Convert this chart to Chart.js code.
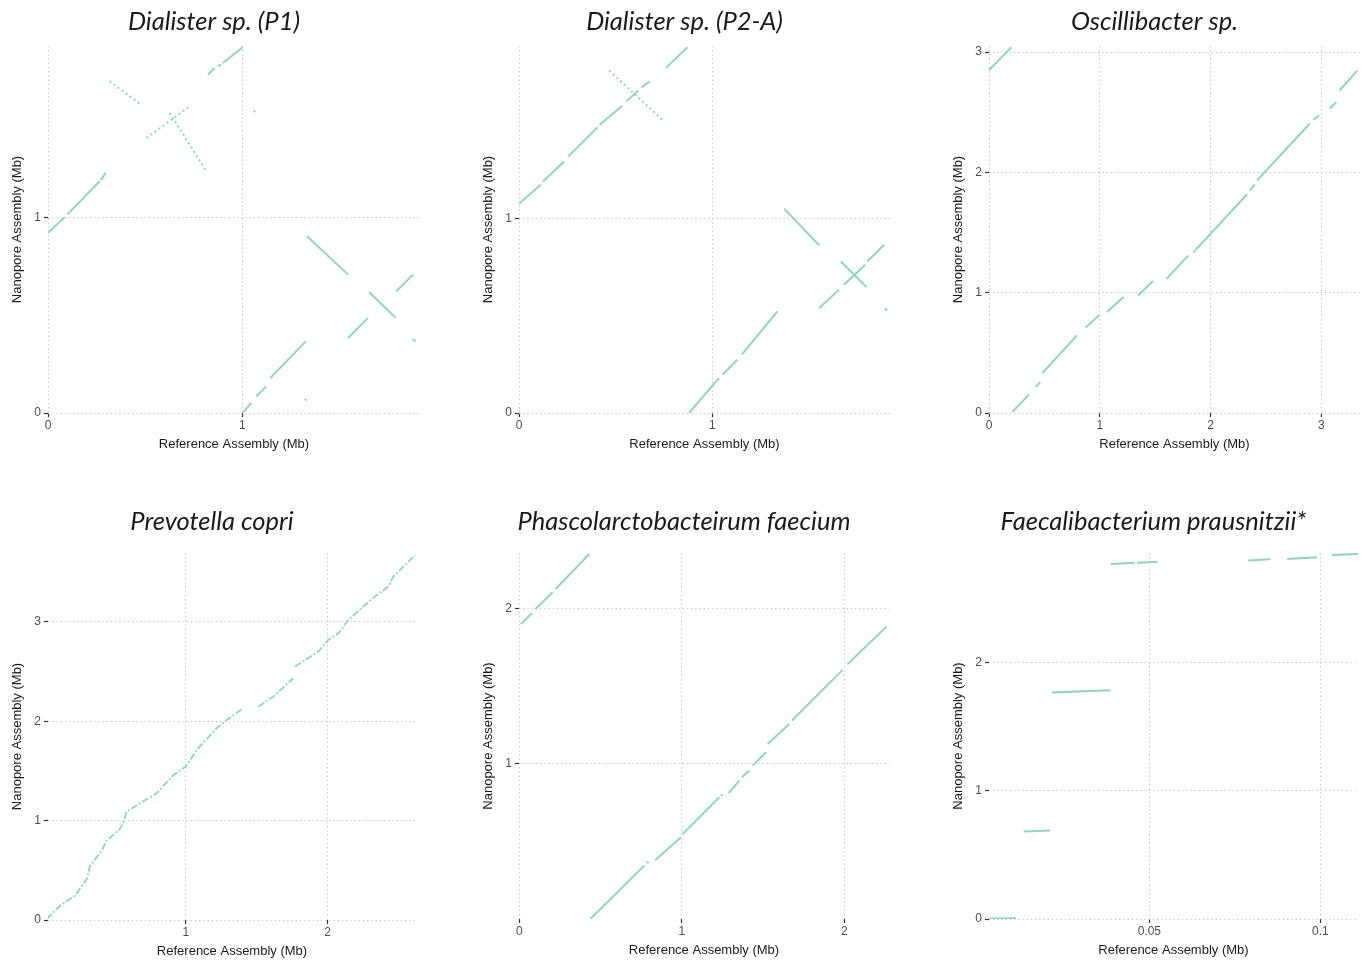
<!DOCTYPE html>
<html>
<head>
<meta charset="utf-8">
<script src="https://cdn.jsdelivr.net/npm/chart.js@4.4.1/dist/chart.umd.min.js"></script>
<style>
  html, body { margin: 0; padding: 0; background: #ffffff; }
  body { width: 1368px; height: 960px; position: relative; overflow: hidden; }
  canvas { position: absolute; }
</style>
</head>
<body>
<canvas id="c1"></canvas>
<canvas id="c2"></canvas>
<canvas id="c3"></canvas>
<canvas id="c4"></canvas>
<canvas id="c5"></canvas>
<canvas id="c6"></canvas>
<script>
// ---------------- DATA (Mb) ----------------
const titles = [
  'Dialister sp. (P1)',
  'Dialister sp. (P2-A)',
  'Oscillibacter sp.',
  'Prevotella copri',
  'Phascolarctobacteirum faecium',
  'Faecalibacterium prausnitzii*'
];
const xAxisTitle = 'Reference Assembly (Mb)';
const yAxisTitle = 'Nanopore Assembly (Mb)';

// tick values per panel
const p1XTicks = [0, 1];
const p1YTicks = [0, 1];
const p2XTicks = [0, 1];
const p2YTicks = [0, 1];
const p3XTicks = [0, 1, 2, 3];
const p3YTicks = [0, 1, 2, 3];
const p4XTicks = [1, 2];
const p4YTicks = [0, 1, 2, 3];
const p5XTicks = [0, 1, 2];
const p5YTicks = [1, 2];
const p6XTicks = [0.05, 0.1];
const p6YTicks = [0, 1, 2];

// alignment segments [refStart, nanoStart, refEnd, nanoEnd]
const p1Segments = [
  [0, 0.92, 0.085, 1.0],
  [0.10, 1.015, 0.266, 1.184],
  [0.272, 1.19, 0.297, 1.227],
  [0.823, 1.729, 0.858, 1.763],
  [0.875, 1.772, 0.89, 1.781],
  [0.90, 1.788, 1.003, 1.87],
  [1.058, 1.545, 1.066, 1.537],
  [1.003, 0.003, 1.046, 0.051],
  [1.072, 0.085, 1.123, 0.136],
  [1.144, 0.179, 1.326, 0.366],
  [1.322, 0.072, 1.33, 0.064],
  [1.333, 0.903, 1.544, 0.707],
  [1.652, 0.618, 1.789, 0.486],
  [1.544, 0.383, 1.647, 0.486],
  [1.792, 0.622, 1.878, 0.707],
  [1.875, 0.378, 1.892, 0.366]
];
const p1Dotted = [
  [0.317, 1.695, 0.48, 1.575],
  [0.506, 1.405, 0.729, 1.567],
  [0.626, 1.533, 0.815, 1.235]
];

const p2Segments = [
  [0, 1.077, 0.112, 1.175],
  [0.124, 1.192, 0.233, 1.295],
  [0.255, 1.321, 0.405, 1.47],
  [0.417, 1.484, 0.534, 1.581],
  [0.555, 1.604, 0.617, 1.66],
  [0.634, 1.676, 0.676, 1.707],
  [0.759, 1.775, 0.871, 1.883],
  [0.879, 0, 1.034, 0.18],
  [1.052, 0.197, 1.129, 0.274],
  [1.152, 0.30, 1.336, 0.523],
  [1.552, 0.540, 1.655, 0.635],
  [1.68, 0.66, 1.79, 0.763],
  [1.80, 0.78, 1.888, 0.866],
  [1.371, 1.051, 1.552, 0.863],
  [1.664, 0.780, 1.797, 0.648],
  [1.893, 0.540, 1.902, 0.527]
];
const p2Dotted = [
  [0.466, 1.762, 0.75, 1.501]
];

const p3Segments = [
  [0, 2.85, 0.202, 3.04],
  [0.211, 0.008, 0.361, 0.155],
  [0.421, 0.216, 0.464, 0.257],
  [0.482, 0.332, 0.794, 0.645],
  [0.873, 0.710, 0.993, 0.812],
  [1.065, 0.839, 1.216, 0.967],
  [1.345, 0.977, 1.48, 1.097],
  [1.601, 1.115, 1.797, 1.308],
  [1.842, 1.333, 2.329, 1.818],
  [2.353, 1.850, 2.398, 1.899],
  [2.419, 1.933, 2.894, 2.404],
  [2.93, 2.438, 2.978, 2.474],
  [3.075, 2.530, 3.135, 2.585],
  [3.165, 2.682, 3.322, 2.843]
];

// Prevotella copri: traced alignment paths [ref, nano]
const p4PathA = [
  [0.021, 0.01], [0.115, 0.144], [0.22, 0.245], [0.303, 0.412], [0.326, 0.546],
  [0.408, 0.697], [0.443, 0.798], [0.537, 0.916], [0.561, 0.983], [0.584, 1.09],
  [0.678, 1.174], [0.795, 1.274], [0.913, 1.459], [1.0, 1.543], [1.077, 1.711],
  [1.218, 1.929], [1.30, 2.023], [1.406, 2.13]
];
const p4PathB = [
  [1.512, 2.147], [1.617, 2.247], [1.758, 2.432]
];
const p4PathC = [
  [1.77, 2.55], [1.934, 2.70], [2.004, 2.817], [2.075, 2.884], [2.145, 3.018],
  [2.263, 3.169], [2.345, 3.269], [2.427, 3.353], [2.462, 3.454], [2.533, 3.554],
  [2.615, 3.672]
];

const p5Segments = [
  [0.01, 1.899, 0.078, 1.968],
  [0.098, 1.994, 0.205, 2.103],
  [0.222, 2.122, 0.431, 2.349],
  [0.437, 0.004, 0.769, 0.347],
  [0.785, 0.363, 0.795, 0.373],
  [0.837, 0.383, 0.995, 0.529],
  [1.005, 0.55, 1.231, 0.786],
  [1.24, 0.795, 1.25, 0.805],
  [1.288, 0.812, 1.354, 0.893],
  [1.37, 0.914, 1.415, 0.957],
  [1.436, 0.989, 1.518, 1.075],
  [1.528, 1.128, 1.662, 1.257],
  [1.678, 1.278, 1.99, 1.604],
  [2.021, 1.642, 2.26, 1.882]
];

const p6Segments = [
  [0.0032, 0.003, 0.011, 0.005],
  [0.01326, 0.682, 0.02105, 0.690],
  [0.02154, 1.766, 0.0386, 1.785],
  [0.0388, 2.770, 0.0457, 2.778],
  [0.0464, 2.778, 0.0524, 2.786],
  [0.0789, 2.796, 0.0854, 2.807],
  [0.0903, 2.809, 0.0990, 2.822],
  [0.1034, 2.840, 0.1110, 2.848]
];

// ---------------- LAYOUT / STYLE ----------------
const TEAL = '#93d3be';
const panels = [
  { id: 'c1', rowTop: 0,   L: 48,  R: 420,  T: 46,  B: 413, xMin: 0,       xMax: 1.914, yMin: 0,     yMax: 1.875, xt: p1XTicks, yt: p1YTicks, seg: p1Segments, dot: p1Dotted },
  { id: 'c2', rowTop: 0,   L: 519, R: 890,  T: 46,  B: 413, xMin: 0,       xMax: 1.918, yMin: 0,     yMax: 1.889, xt: p2XTicks, yt: p2YTicks, seg: p2Segments, dot: p2Dotted },
  { id: 'c3', rowTop: 0,   L: 989, R: 1360, T: 46,  B: 413, xMin: 0,       xMax: 3.348, yMin: 0,     yMax: 3.05,  xt: p3XTicks, yt: p3YTicks, seg: p3Segments, dot: [] },
  { id: 'c4', rowTop: 500, L: 48,  R: 416,  T: 553, B: 920, xMin: 0.03,    xMax: 2.622, yMin: 0,     yMax: 3.692, xt: p4XTicks, yt: p4YTicks, seg: [], dot: [], paths: [p4PathA, p4PathB, p4PathC] },
  { id: 'c5', rowTop: 500, L: 519, R: 889,  T: 553, B: 919, xMin: -0.002,  xMax: 2.275, yMin: 0.004, yMax: 2.355, xt: p5XTicks, yt: p5YTicks, seg: p5Segments, dot: [] },
  { id: 'c6', rowTop: 500, L: 989, R: 1358, T: 553, B: 919, xMin: 0.00313, xMax: 0.1110, yMin: 0,    yMax: 2.855, xt: p6XTicks, yt: p6YTicks, seg: p6Segments, dot: [] }
];

const Y_AXIS_W = 40, X_AXIS_H = 40, RIGHT_PAD = 2;
const TITLE_SIZE = 25.5, TITLE_LH = 1.2;

function segDataset(s, dash) {
  return {
    data: [{ x: s[0], y: s[1] }, { x: s[2], y: s[3] }],
    showLine: true, borderColor: TEAL, borderWidth: 2, pointRadius: 0,
    borderDash: dash, borderCapStyle: 'butt'
  };
}
function pathDataset(p) {
  return {
    data: p.map(q => ({ x: q[0], y: q[1] })),
    showLine: true, borderColor: TEAL, borderWidth: 1.8, pointRadius: 0,
    borderDash: [7, 2, 2, 2], tension: 0
  };
}

panels.forEach((p, i) => {
  const cv = document.getElementById(p.id);
  const left = p.L - Y_AXIS_W;
  const w = p.R - left + RIGHT_PAD;
  const h = p.B + X_AXIS_H - p.rowTop;
  cv.width = w; cv.height = h;
  cv.style.left = left + 'px'; cv.style.top = p.rowTop + 'px';
  cv.style.width = w + 'px'; cv.style.height = h + 'px';

  const titleBand = p.T - p.rowTop;
  const tPadTop = 22 - TITLE_SIZE * TITLE_LH / 2;
  const tPadBottom = titleBand - tPadTop - TITLE_SIZE * TITLE_LH;

  const datasets = [];
  p.seg.forEach(s => datasets.push(segDataset(s, [])));
  p.dot.forEach(s => datasets.push(segDataset(s, [2, 3])));
  (p.paths || []).forEach(pp => datasets.push(pathDataset(pp)));

  const tickFont = { family: '"Liberation Sans", Arial, sans-serif', size: 12 };
  const axTitleFont = { family: '"Liberation Sans", Arial, sans-serif', size: 13, lineHeight: 1.2 };

  new Chart(cv, {
    type: 'scatter',
    data: { datasets },
    options: {
      responsive: false,
      animation: false,
      devicePixelRatio: 1,
      layout: { padding: { left: 0, right: RIGHT_PAD, top: 0, bottom: 0 } },
      plugins: {
        legend: { display: false },
        tooltip: { enabled: false },
        title: {
          display: true,
          text: titles[i],
          color: '#1a1a1a',
          font: { family: 'Lato, "Open Sans", sans-serif', size: TITLE_SIZE, style: 'italic', weight: 'normal', lineHeight: TITLE_LH },
          padding: { top: tPadTop, bottom: tPadBottom }
        }
      },
      scales: {
        x: {
          type: 'linear', min: p.xMin, max: p.xMax,
          afterBuildTicks: sc => { sc.ticks = p.xt.map(v => ({ value: v })); },
          afterFit: sc => { sc.height = X_AXIS_H; },
          ticks: { color: '#4d4d4d', font: tickFont, padding: 1, maxRotation: 0, autoSkip: false, callback: v => String(v) },
          grid: { color: '#bdbdbd', lineWidth: 1, drawTicks: true, tickLength: 4, tickColor: '#333333', tickWidth: 1.2 },
          border: { display: false, dash: [1.2, 3] },
          title: { display: true, text: xAxisTitle, color: '#1a1a1a', font: axTitleFont, padding: { top: 0, bottom: 1 } }
        },
        y: {
          type: 'linear', min: p.yMin, max: p.yMax,
          afterBuildTicks: sc => { sc.ticks = p.yt.map(v => ({ value: v })); },
          afterFit: sc => { sc.width = Y_AXIS_W; },
          ticks: { color: '#4d4d4d', font: tickFont, padding: 3, autoSkip: false, callback: v => String(v) },
          grid: { color: '#bdbdbd', lineWidth: 1, drawTicks: true, tickLength: 4, tickColor: '#333333', tickWidth: 1.2 },
          border: { display: false, dash: [1.2, 3] },
          title: { display: true, text: yAxisTitle, color: '#1a1a1a', font: axTitleFont, padding: { top: 2, bottom: 0 } }
        }
      }
    }
  });
});
</script>
</body>
</html>
